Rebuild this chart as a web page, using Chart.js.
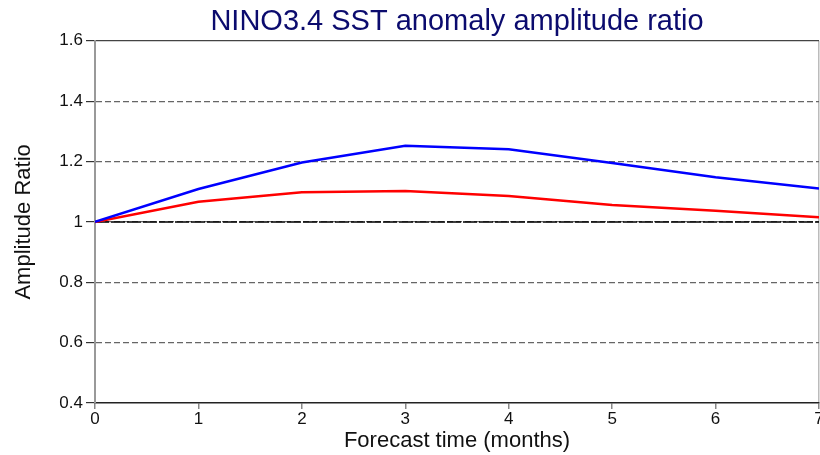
<!DOCTYPE html>
<html>
<head>
<meta charset="utf-8">
<script src="https://cdn.jsdelivr.net/npm/chart.js@4/dist/chart.umd.min.js"></script>
<style>
    html, body { margin: 0; padding: 0; background: #fff; overflow: hidden; }
    #wrap { width: 820px; height: 455px; position: relative; }
</style>
</head>
<body>
<div id="wrap"><canvas id="ratioChart"></canvas></div>
<script>
// forecast lead (months) and amplitude ratios
const months = [0, 1, 2, 3, 4, 5, 6, 7];
const ratioBlue = [1.0, 1.109, 1.197, 1.252, 1.241, 1.195, 1.148, 1.111];
const ratioRed = [1.0, 1.067, 1.098, 1.102, 1.086, 1.056, 1.037, 1.015];
const ratioRef = [1, 1, 1, 1, 1, 1, 1, 1];
const yTicks = [0.4, 0.6, 0.8, 1, 1.2, 1.4, 1.6];

const toPoints = vals => months.map((m, i) => ({ x: m, y: vals[i] }));
const near = (a, b) => Math.abs(a - b) < 1e-6;

document.addEventListener("DOMContentLoaded", () => {
    const ctx = document.getElementById("ratioChart");
    Chart.defaults.font.family = "'Liberation Sans', Arial, sans-serif";

    new Chart(ctx, {
        type: 'line',
        data: {
            datasets: [{
                data: toPoints(ratioBlue),
                borderColor: '#0000ff',
                borderWidth: 2.5,
                pointRadius: 0,
                tension: 0
            }, {
                data: toPoints(ratioRed),
                borderColor: '#ff0000',
                borderWidth: 2.5,
                pointRadius: 0,
                tension: 0
            }, {
                data: toPoints(ratioRef),
                borderColor: '#000000',
                borderWidth: 1.5,
                borderDash: [14, 2],
                pointRadius: 0,
                tension: 0
            }]
        },
        options: {
            responsive: true,
            maintainAspectRatio: false,
            animation: false,
            layout: { padding: { right: 1 } },
            plugins: {
                legend: { display: false },
                tooltip: { enabled: false },
                title: {
                    display: true,
                    text: 'NINO3.4 SST anomaly amplitude ratio',
                    color: '#0b0b6e',
                    fullSize: false,
                    font: { size: 29, weight: 'normal' },
                    padding: { top: 5, bottom: 1 }
                }
            },
            scales: {
                x: {
                    type: 'linear',
                    min: 0,
                    max: 7,
                    ticks: {
                        stepSize: 1,
                        color: '#111',
                        font: { size: 17 },
                        padding: 0,
                        maxRotation: 0
                    },
                    grid: {
                        // only the right-hand frame line at the last month
                        color: c => (c.tick && c.tick.value === 7) ? '#bbbbbb' : 'rgba(0,0,0,0)',
                        lineWidth: 1.5,
                        tickColor: '#888',
                        tickLength: 6
                    },
                    border: { color: '#222', width: 1.5 },
                    title: {
                        display: true,
                        text: 'Forecast time (months)',
                        color: '#111',
                        font: { size: 22 },
                        padding: { top: 0, bottom: 1 }
                    },
                    afterFit: s => {
                        s.height = 52;
                        s.paddingLeft = 0;
                        s.paddingRight = 0;
                    }
                },
                y: {
                    min: 0.4,
                    max: 1.6,
                    afterBuildTicks: s => {
                        s.ticks = yTicks.map(v => ({ value: v }));
                    },
                    ticks: {
                        color: '#111',
                        font: { size: 17 },
                        padding: 3,
                        callback: v => String(+Number(v).toFixed(1))
                    },
                    grid: {
                        color: c => {
                            if (!c.tick) return '#666';
                            if (near(c.tick.value, 1.6)) return '#444';
                            if (near(c.tick.value, 0.4)) return 'rgba(0,0,0,0)';
                            return '#666';
                        },
                        lineWidth: 1.2,
                        tickColor: '#333',
                        tickLength: 9
                    },
                    border: {
                        color: '#999',
                        width: 2,
                        dash: c => (c.tick && near(c.tick.value, 1.6)) ? [] : [6, 3]
                    },
                    title: {
                        display: true,
                        text: 'Amplitude Ratio',
                        color: '#111',
                        font: { size: 22 },
                        padding: { top: 11, bottom: 0 }
                    },
                    afterFit: s => {
                        s.width = 95;
                        s.paddingTop = 0;
                        s.paddingBottom = 0;
                    }
                }
            }
        }
    });
});
</script>
</body>
</html>
